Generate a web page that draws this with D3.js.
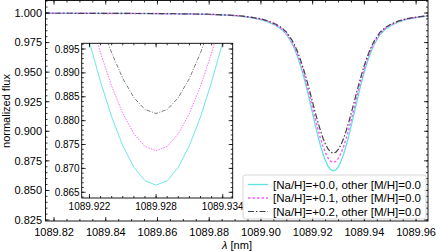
<!DOCTYPE html>
<html><head><meta charset="utf-8">
<script src="https://cdn.jsdelivr.net/npm/d3@7"></script>
<style>body{margin:0;background:#fff}svg{display:block}text{font-family:"Liberation Sans",Arial,sans-serif;fill:#000}</style>
</head><body>
<script>
const wavelength = [1089.816,1089.830,1089.845,1089.860,1089.870,1089.880,1089.888,1089.892,1089.896,1089.900,1089.903,1089.906,1089.908,1089.910,
1089.912,1089.913,1089.914,1089.915,1089.916,1089.917,1089.918,1089.919,1089.920,1089.921,1089.922,1089.923,1089.924,1089.925,1089.926,1089.927,
1089.928,
1089.929,1089.930,1089.931,1089.932,1089.933,1089.934,1089.935,1089.936,1089.937,1089.938,1089.939,1089.940,1089.941,1089.942,1089.943,1089.944,
1089.946,1089.948,1089.950,1089.953,1089.956,1089.960,1089.964,1089.968];
const fluxNa00 = [0.99980,0.99973,0.99960,0.99947,0.99920,0.99880,0.99800,0.99733,0.99613,0.99439,0.99226,0.98905,0.98598,0.98158,
0.97423,0.96956,0.96395,0.95755,0.95034,0.94233,0.93352,0.92431,0.91483,0.90535,0.89640,0.88813,0.88078,0.87478,0.87024,0.86743,
0.86650,
0.86743,0.87024,0.87478,0.88078,0.88813,0.89640,0.90535,0.91483,0.92431,0.93352,0.94233,0.95034,0.95755,0.96395,0.96956,0.97423,
0.98158,0.98598,0.98905,0.99226,0.99439,0.99613,0.99733,0.99800];
const fluxNa01 = [0.99981,0.99975,0.99962,0.99949,0.99924,0.99886,0.99811,0.99747,0.99634,0.99470,0.99267,0.98964,0.98674,0.98257,
0.97562,0.97120,0.96590,0.95984,0.95302,0.94544,0.93710,0.92839,0.91942,0.91045,0.90199,0.89416,0.88721,0.88153,0.87724,0.87458,
0.87370,
0.87458,0.87724,0.88153,0.88721,0.89416,0.90199,0.91045,0.91942,0.92839,0.93710,0.94544,0.95302,0.95984,0.96590,0.97120,0.97562,
0.98257,0.98674,0.98964,0.99267,0.99470,0.99634,0.99747,0.99811];
const fluxNa02 = [0.99982,0.99976,0.99964,0.99953,0.99929,0.99893,0.99822,0.99763,0.99656,0.99502,0.99313,0.99028,0.98756,0.98365,
0.97713,0.97298,0.96800,0.96232,0.95592,0.94881,0.94099,0.93281,0.92440,0.91598,0.90804,0.90070,0.89418,0.88885,0.88482,0.88233,
0.88150,
0.88233,0.88482,0.88885,0.89418,0.90070,0.90804,0.91598,0.92440,0.93281,0.94099,0.94881,0.95592,0.96232,0.96800,0.97298,0.97713,
0.98365,0.98756,0.99028,0.99313,0.99502,0.99656,0.99763,0.99822];
const seriesLabels = ["[Na/H]=+0.0, other [M/H]=0.0","[Na/H]=+0.1, other [M/H]=0.0","[Na/H]=+0.2, other [M/H]=0.0"];
const mainXTicks = [1089.82,1089.84,1089.86,1089.88,1089.90,1089.92,1089.94,1089.96];
const mainYTicks = [0.825,0.850,0.875,0.900,0.925,0.950,0.975,1.000];
const insetXTicks = [1089.922,1089.928,1089.934];
const insetYTicks = [0.865,0.870,0.875,0.880,0.885,0.890,0.895];

const W=436,H=251;
const svg=d3.select("body").append("svg").attr("width",W).attr("height",H);
const styles=[
 {color:"#5ee3e3",dash:null,w:1.3,wi:0.9},
 {color:"#ff5cff",dash:"2.5,2",w:1.5,wi:0.9},
 {color:"#444",dash:"6,2,1.5,2",w:1.2,wi:0.7}
];
const data=[fluxNa00,fluxNa01,fluxNa02];

function drawAxes(g,x,y,xt,yt,xminor,yminor,fmtX,fmtY,fs,labX,labY){
  const [x0,x1]=x.range(),[y0,y1]=y.range();
  const maj=4,min=2;
  const ax=g.append("g").attr("stroke","#000").attr("stroke-width",0.8);
  xminor.forEach(v=>{const p=x(v);ax.append("line").attr("x1",p).attr("x2",p).attr("y1",y0).attr("y2",y0-min);ax.append("line").attr("x1",p).attr("x2",p).attr("y1",y1).attr("y2",y1+min);});
  xt.forEach(v=>{const p=x(v);ax.append("line").attr("x1",p).attr("x2",p).attr("y1",y0).attr("y2",y0-maj);ax.append("line").attr("x1",p).attr("x2",p).attr("y1",y1).attr("y2",y1+maj);});
  yminor.forEach(v=>{const p=y(v);ax.append("line").attr("y1",p).attr("y2",p).attr("x1",x0).attr("x2",x0+min);ax.append("line").attr("y1",p).attr("y2",p).attr("x1",x1).attr("x2",x1-min);});
  yt.forEach(v=>{const p=y(v);ax.append("line").attr("y1",p).attr("y2",p).attr("x1",x0).attr("x2",x0+maj);ax.append("line").attr("y1",p).attr("y2",p).attr("x1",x1).attr("x2",x1-maj);});
  g.append("rect").attr("x",x0).attr("y",y1).attr("width",x1-x0).attr("height",y0-y1).attr("fill","none").attr("stroke","#000").attr("stroke-width",0.9);
  xt.forEach(v=>g.append("text").attr("x",x(v)).attr("y",y0+labX).attr("text-anchor","middle").attr("font-size",fs).text(fmtX(v)));
  yt.forEach(v=>g.append("text").attr("x",x0-labY).attr("y",y(v)).attr("dy","0.35em").attr("text-anchor","end").attr("font-size",fs).text(fmtY(v)));
}
function range(a,b,s){const r=[];for(let v=a;v<=b+s/10;v+=s)r.push(+v.toFixed(6));return r;}

// main
const x=d3.scaleLinear().domain([1089.8167,1089.9646]).range([45.5,428]);
const y=d3.scaleLinear().domain([0.82415,1.01057]).range([221,0.5]);
svg.append("clipPath").attr("id","cm").append("rect").attr("x",45.5).attr("y",0.5).attr("width",428-45.5).attr("height",220.5);
const gm=svg.append("g");
const lm=gm.append("g").attr("clip-path","url(#cm)");
data.forEach((d,i)=>{
  const line=d3.line().x((_,k)=>x(wavelength[k])).y(v=>y(v));
  lm.append("path").attr("d",line(d)).attr("fill","none").attr("stroke",styles[i].color).attr("stroke-width",styles[i].w).attr("stroke-dasharray",styles[i].dash);
});
drawAxes(gm,x,y,mainXTicks,mainYTicks,range(1089.82,1089.96,0.005),range(0.825,1.01,0.005),d3.format(".2f"),d3.format(".3f"),11,14.5,3.5);
svg.append("text").attr("x",237).attr("y",248.5).attr("text-anchor","middle").attr("font-size",11)
 .html('<tspan font-style="italic">λ</tspan> [nm]');
svg.append("text").attr("transform","translate(10,111) rotate(-90)").attr("text-anchor","middle").attr("font-size",11).text("normalized flux");

// inset
const xi=d3.scaleLinear().domain([1089.9213,1089.9349]).range([81.7,232.7]);
const yi=d3.scaleLinear().domain([0.8638,0.8962]).range([198,43.3]);
svg.append("rect").attr("x",81.7).attr("y",43.3).attr("width",151).attr("height",154.7).attr("fill","#fff");
svg.append("clipPath").attr("id","ci").append("rect").attr("x",81.7).attr("y",43.3).attr("width",151).attr("height",154.7);
const gi=svg.append("g");
const li=gi.append("g").attr("clip-path","url(#ci)");
data.forEach((d,i)=>{
  const line=d3.line().x((_,k)=>xi(wavelength[k])).y(v=>yi(v));
  li.append("path").attr("d",line(d)).attr("fill","none").attr("stroke",styles[i].color).attr("stroke-width",styles[i].wi).attr("stroke-dasharray",i==1?"1.5,1.2":(i==2?"4,1.5,1,1.5":null));
});
drawAxes(gi,xi,yi,insetXTicks,insetYTicks,range(1089.922,1089.934,0.001),range(0.864,0.896,0.001),d3.format(".3f"),d3.format(".3f"),10,11.5,2);

// legend
const lg=svg.append("g");
lg.append("rect").attr("x",243).attr("y",175).attr("width",183).attr("height",44).attr("rx",2.5)
 .attr("fill","#fff").attr("fill-opacity",0.8).attr("stroke","#ccc").attr("stroke-width",0.8);
seriesLabels.forEach((t,i)=>{
  const yy=184.5+i*13.5;
  lg.append("line").attr("x1",248).attr("x2",268).attr("y1",yy).attr("y2",yy).attr("stroke",styles[i].color).attr("stroke-width",styles[i].w).attr("stroke-dasharray",styles[i].dash);
  lg.append("text").attr("x",273).attr("y",yy).attr("dy","0.35em").attr("font-size",11.5).text(t);
});
</script>
</body></html>
